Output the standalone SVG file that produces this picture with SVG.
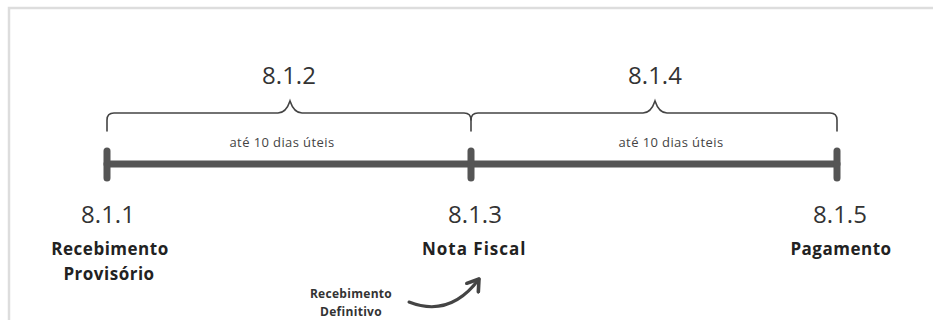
<svg xmlns="http://www.w3.org/2000/svg" width="933" height="320" viewBox="0 0 933 320">
<style>
.num{font-family:"Open Sans","Noto Sans",sans-serif;font-size:24px;fill:#333;text-anchor:middle}
.lbl{font-family:"Open Sans","Noto Sans",sans-serif;font-weight:bold;font-size:17px;letter-spacing:0.5px;fill:#222;text-anchor:middle}
.small{font-family:"Open Sans","Noto Sans",sans-serif;font-size:13px;letter-spacing:0.4px;fill:#444;text-anchor:middle}
.tiny{font-family:"Open Sans","Noto Sans",sans-serif;font-weight:bold;font-size:12px;letter-spacing:0.3px;fill:#333;text-anchor:middle}
.brace{fill:none;stroke:#444;stroke-width:1.6;stroke-linecap:round}
.bar{stroke:#555;stroke-width:7;stroke-linecap:round}
</style>
<defs>
<marker id="chev" viewBox="0 0 10 10" refX="7" refY="5" markerWidth="6" markerHeight="6" orient="auto" markerUnits="strokeWidth">
<path d="M1,1 L7,5 L1,9" fill="none" stroke="#444" stroke-width="2" stroke-linecap="round" stroke-linejoin="round"/>
</marker>
</defs>
<rect width="933" height="320" fill="#fff"/>
<path d="M9,330 V8 H940" fill="none" stroke="#ddd" stroke-width="2.5"/>
<g id="connectors">
<line class="bar" x1="107" y1="164" x2="837" y2="164"/>
<line class="bar" x1="107" y1="151" x2="107" y2="178"/>
<line class="bar" x1="471" y1="151" x2="471" y2="178"/>
<line class="bar" x1="837" y1="151" x2="837" y2="178"/>
<path class="brace" d="M107,131 V120 Q107,113 114,113 H278 Q286,113 290,101 Q294,113 302,113 H464 Q471,113 471,120 V131"/>
<path class="brace" d="M471,120 Q471,113 478,113 H643 Q651,113 655,101 Q659,113 667,113 H830 Q837,113 837,120 V131"/>
<path d="M409,302 Q450,318 479,279" fill="none" stroke="#444" stroke-width="3" stroke-linecap="round" marker-end="url(#chev)"/>
</g>
<g id="n812"><text class="num" x="289" y="84">8.1.2</text></g>
<g id="n814"><text class="num" x="655" y="84">8.1.4</text></g>
<g id="d1"><text class="small" x="282" y="147">até 10 dias úteis</text></g>
<g id="d2"><text class="small" x="671" y="147">até 10 dias úteis</text></g>
<g id="n811"><text class="num" x="108" y="223">8.1.1</text>
<text class="lbl" x="110" y="255">Recebimento</text><text class="lbl" x="109" y="280">Provisório</text></g>
<g id="n813"><text class="num" x="475" y="223">8.1.3</text>
<text class="lbl" x="474" y="255" textLength="104" lengthAdjust="spacing">Nota Fiscal</text></g>
<g id="n815"><text class="num" x="840" y="223">8.1.5</text>
<text class="lbl" x="841" y="255">Pagamento</text></g>
<g id="rd"><text class="tiny" x="351" y="298">Recebimento</text><text class="tiny" x="351" y="316">Definitivo</text></g>
</svg>
